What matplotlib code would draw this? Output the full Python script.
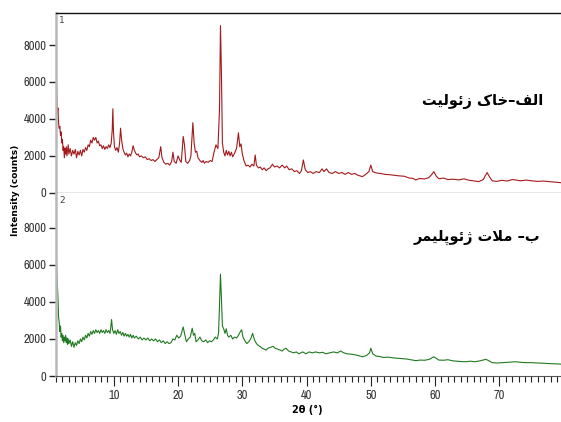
# xrd_soil_mortar.py
# XRD patterns: zeolite soil (top) and geopolymer mortar (bottom)

import matplotlib
matplotlib.use("Agg")
import matplotlib.pyplot as plt
from matplotlib.ticker import MultipleLocator

# ---- data (2theta in degrees, intensity in counts) ----
two_theta_soil = [
    1.0, 1.05, 1.1, 1.2, 1.3, 1.4, 1.5, 1.6, 1.7, 1.8, 1.9, 2.0, 2.1, 2.2, 2.3, 2.4,
    2.5, 2.6, 2.7, 2.8, 2.9, 3.0, 3.2, 3.4, 3.6, 3.8, 4.0, 4.2, 4.4, 4.6, 4.8, 5.0,
    5.2, 5.4, 5.6, 5.8, 6.0, 6.2, 6.4, 6.6, 6.8, 7.0, 7.2, 7.4, 7.6, 7.8, 8.0, 8.2,
    8.4, 8.6, 8.8, 9.0, 9.2, 9.4, 9.6, 9.75, 9.85, 9.95, 10.1, 10.3, 10.5, 10.7,
    10.9, 11.05, 11.2, 11.4, 11.6, 11.8, 12.0, 12.2, 12.4, 12.6, 12.8, 13.0, 13.2,
    13.4, 13.6, 13.8, 14.0, 14.3, 14.6, 14.9, 15.2, 15.5, 15.8, 16.1, 16.4, 16.7,
    17.0, 17.3, 17.5, 17.8, 18.1, 18.4, 18.7, 19.0, 19.2, 19.4, 19.7, 20.0, 20.3,
    20.5, 20.8, 21.0, 21.2, 21.5, 21.8, 22.0, 22.3, 22.5, 22.7, 22.9, 23.1, 23.4,
    23.7, 23.9, 24.1, 24.4, 24.7, 25.0, 25.3, 25.6, 25.9, 26.2, 26.45, 26.6, 26.75,
    26.9, 27.1, 27.3, 27.5, 27.7, 27.9, 28.1, 28.3, 28.5, 28.8, 29.1, 29.4, 29.6,
    29.8, 30.0, 30.3, 30.6, 30.9, 31.2, 31.5, 31.8, 32.0, 32.2, 32.5, 32.8, 33.1,
    33.4, 33.7, 34.0, 34.3, 34.7, 35.0, 35.4, 35.8, 36.2, 36.6, 36.9, 37.3, 37.7,
    38.1, 38.5, 38.9, 39.2, 39.5, 39.8, 40.2, 40.6, 41.0, 41.5, 42.0, 42.4, 42.7,
    43.1, 43.5, 44.0, 44.5, 45.0, 45.5, 46.0, 46.5, 47.0, 47.5, 48.0, 48.7, 49.2,
    49.7, 50.0, 50.3, 50.8, 51.5, 52.2, 53.0, 53.7, 54.4, 55.2, 56.0, 56.6, 57.0,
    57.6, 58.3, 59.0, 59.5, 59.8, 60.2, 60.6, 61.3, 62.0, 62.8, 63.7, 64.5, 65.3,
    66.0, 66.8, 67.5, 68.1, 68.5, 68.9, 69.6, 70.4, 71.2, 72.0, 72.5, 73.3, 74.2,
    75.1, 76.0, 76.8, 77.7, 78.5, 79.3, 79.6,
]
counts_soil = [
    8600, 6000, 5800, 4300, 4600, 3800, 3500, 3600, 3100, 3300, 2700, 2900, 2300, 2500, 1900, 2400,
    2100, 2500, 2000, 2300, 2600, 2100, 2400, 2000, 2300, 2100, 2350, 1900, 2250, 2050, 2300, 2000,
    2350, 2200, 2450, 2300, 2600, 2500, 2850, 2700, 3000, 2850, 3000, 2700, 2800, 2550, 2600, 2400,
    2550, 2350, 2500, 2400, 2600, 2450, 2700, 3400, 4550, 3300, 2500, 2300, 2450, 2200,
    2700, 3500, 2900, 2400, 2200, 2050, 2150, 1950, 2100, 2000, 2200, 2550, 2300,
    2150, 2050, 2100, 1950, 2000, 1900, 1950, 1800, 1850, 1750, 1800, 1700, 1800,
    1900, 2500, 1900, 1650, 1550, 1600, 1500, 1700, 2200, 1700, 1600, 2000, 1750,
    1650, 3050, 2600, 1700, 1600, 1750, 2000, 3800, 2700, 2200, 2250, 1900, 1750,
    1650, 1750, 1600, 1700, 1650, 1750, 1700, 2200, 2600, 2400, 4500, 9050, 6500,
    2700, 2200, 2000, 2300, 2050, 2250, 2000, 2200, 1950, 2150, 2400, 3250, 2500,
    2650, 2100, 1700, 1450, 1500, 1400, 1550, 1450, 2050, 1500, 1350, 1400, 1250,
    1350, 1200, 1300, 1350, 1550, 1400, 1450, 1350, 1500, 1350, 1450, 1250, 1300,
    1150, 1200, 1050, 1200, 1780, 1250, 1100, 1150, 1050, 1150, 1100, 1300, 1150,
    1300, 1100, 1050, 1150, 1050, 1100, 1000, 1100, 1000, 1050, 950, 880, 1000,
    1150, 1500, 1150, 1080, 1050, 1000, 980, 950, 920, 900, 800, 780, 700,
    780, 750, 820, 1000, 1150, 900, 760, 800, 720, 740, 700, 760, 680,
    650, 610, 720, 1100, 850, 650, 620, 680, 640, 720, 700, 650, 690,
    650, 620, 640, 610, 580, 560, 550,
]

two_theta_mortar = [
    1.0, 1.05, 1.1, 1.2, 1.3, 1.4, 1.5, 1.6, 1.7, 1.8, 1.9, 2.0, 2.1, 2.2, 2.3, 2.4,
    2.5, 2.6, 2.7, 2.8, 2.9, 3.0, 3.2, 3.4, 3.6, 3.8, 4.0, 4.2, 4.4, 4.6, 4.8, 5.0,
    5.2, 5.4, 5.6, 5.8, 6.0, 6.2, 6.4, 6.6, 6.8, 7.0, 7.2, 7.4, 7.6, 7.8, 8.0, 8.2,
    8.4, 8.6, 8.8, 9.0, 9.2, 9.4, 9.55, 9.65, 9.8, 10.0, 10.2, 10.4, 10.6, 10.8,
    11.0, 11.2, 11.4, 11.6, 11.8, 12.0, 12.2, 12.4, 12.6, 12.8, 13.0, 13.2, 13.5,
    13.8, 14.1, 14.4, 14.7, 15.0, 15.3, 15.6, 15.9, 16.2, 16.5, 16.8, 17.1, 17.4,
    17.7, 18.0, 18.3, 18.6, 18.9, 19.2, 19.5, 19.8, 20.1, 20.4, 20.8, 21.0, 21.3,
    21.6, 21.9, 22.2, 22.4, 22.6, 22.8, 23.1, 23.4, 23.7, 24.0, 24.3, 24.6, 24.9,
    25.2, 25.5, 25.8, 26.1, 26.3, 26.45, 26.6, 26.75, 26.9, 27.1, 27.3, 27.5, 27.7,
    27.9, 28.2, 28.5, 28.8, 29.1, 29.4, 29.7, 29.9, 30.1, 30.4, 30.7, 31.0, 31.3,
    31.6, 31.9, 32.2, 32.5, 32.8, 33.1, 33.4, 33.7, 34.0, 34.4, 34.8, 35.1, 35.5,
    35.9, 36.2, 36.5, 36.8, 37.2, 37.6, 38.0, 38.4, 38.8, 39.1, 39.4, 39.9, 40.4,
    40.9, 41.4, 42.0, 42.5, 43.0, 43.6, 44.2, 44.8, 45.3, 45.8, 46.3, 46.9, 47.5,
    48.1, 48.7, 49.3, 49.8, 50.0, 50.3, 50.8, 51.4, 52.0, 52.7, 53.4, 54.1, 54.8,
    55.5, 56.2, 57.0, 57.7, 58.4, 59.1, 59.8, 60.2, 60.6, 61.3, 62.0, 62.7, 63.4,
    64.1, 64.8, 65.5, 66.2, 67.0, 67.9, 68.4, 68.9, 69.7, 70.5, 71.3, 72.0, 72.5,
    73.3, 74.2, 75.1, 76.0, 76.9, 77.7, 78.5, 79.3, 79.6,
]
counts_mortar = [
    8550, 6500, 5900, 5000, 4300, 3200, 2900, 2400, 2700, 2100, 2300, 1900, 2200, 1800, 2100, 1900,
    2200, 1800, 2050, 1700, 2000, 1750, 1950, 1600, 1850, 1550, 1800, 1650, 1900, 1750, 2000, 1850,
    2100, 1950, 2200, 2050, 2300, 2150, 2400, 2250, 2450, 2300, 2500, 2350, 2450, 2300, 2500, 2350,
    2450, 2300, 2500, 2350, 2450, 2300, 2700, 3050, 2500, 2300, 2450, 2250, 2500, 2300,
    2400, 2200, 2350, 2150, 2300, 2150, 2250, 2100, 2250, 2050, 2200, 2050, 2150,
    2000, 2100, 1950, 2050, 1950, 2050, 1900, 2000, 1900, 2000, 1850, 1950, 1800,
    1900, 1750, 1850, 1750, 1800, 2000, 1950, 2200, 2050, 2150, 2650, 2300, 1850,
    2000, 2100, 2580, 2200, 2300, 1850, 1950, 2100, 1900, 1850, 1950, 1800, 1900,
    1850, 1950, 2100, 2000, 2300, 3800, 5500, 4200, 2700, 2550, 2300, 2550, 2200,
    2100, 2200, 2000, 2100, 2050, 2200, 2400, 2500, 2100, 1900, 1750, 1850, 2000,
    2300, 1950, 1750, 1650, 1580, 1500, 1450, 1400, 1500, 1550, 1600, 1500, 1450,
    1400, 1350, 1450, 1500, 1350, 1300, 1250, 1300, 1200, 1250, 1300, 1200, 1300,
    1250, 1300, 1250, 1280, 1200, 1250, 1300, 1250, 1350, 1250, 1200, 1180, 1150,
    1100, 1040, 1100, 1250, 1500, 1200, 1080, 1050, 1000, 1020, 980, 960, 940,
    920, 880, 830, 860, 850, 900, 1040, 950, 860, 850, 880, 820, 800,
    780, 770, 800, 770, 820, 900, 820, 720, 700, 720, 740, 760, 770,
    740, 720, 720, 700, 690, 670, 660, 650, 640,
]

y_ticks = [0, 2000, 4000, 6000, 8000]
x_ticks = [10, 20, 30, 40, 50, 60, 70]

# Persian captions, pre-shaped into presentation forms and laid out left to right
label_soil = "\uFE96\uFBFF\uFEDF\uFEEE\uFE8B\uFEAF \uFB8E\uFE8E\uFEA7\u2013\uFED2\uFEDF\uFE8D"      # الف–خاک زئولیت
label_mortar = "\uFEAE\uFEE4\uFBFF\uFEE0\uFB58\uFEEE\uFE8B\uFB8A \uFE95\uFEFC\uFEE3 \u2013\uFE8F"   # ب– ملات ژئوپلیمر

c_soil = "#a3191b"
c_mortar = "#1f7a1f"
c_tick = "#333333"
narrow = ["Liberation Sans Narrow", "Archivo Narrow", "DejaVu Sans"]


def style_axis(ax):
    ax.set_xlim(1.0, 79.6)
    ax.set_yticks(y_ticks)
    ax.tick_params(axis="y", direction="out", length=5, width=1, colors="#222222",
                   labelsize=9, labelcolor=c_tick, pad=2)
    for lab in ax.get_yticklabels():
        lab.set_family(narrow)
    ax.spines["right"].set_visible(False)
    ax.spines["left"].set_color("#b8b8b8")
    ax.spines["left"].set_linewidth(1.8)


fig = plt.figure(figsize=(5.61, 4.22), dpi=100)
fig.patch.set_facecolor("white")
ax1 = fig.add_axes([0.0998, 0.543, 0.9002, 0.426])
ax2 = fig.add_axes([0.0998, 0.109, 0.9002, 0.434], sharex=ax1)

ax1.plot(two_theta_soil, counts_soil, color=c_soil, lw=0.8)
ax2.plot(two_theta_mortar, counts_mortar, color=c_mortar, lw=0.8)

style_axis(ax1)
style_axis(ax2)
ax1.set_ylim(0, 9730)
ax2.set_ylim(0, 9890)

ax1.spines["top"].set_color("#111111")
ax1.spines["top"].set_linewidth(1.0)
ax1.spines["bottom"].set_color("#8a8a8a")
ax1.spines["bottom"].set_linewidth(1.0)
ax1.tick_params(axis="x", bottom=False, labelbottom=False)

ax2.spines["top"].set_visible(False)
ax2.spines["bottom"].set_color("#555555")
ax2.spines["bottom"].set_linewidth(0.8)
ax2.set_xticks(x_ticks)
ax2.xaxis.set_minor_locator(MultipleLocator(1))
ax2.tick_params(axis="x", which="major", direction="out", length=7, width=0.8,
                colors="#222222", labelsize=9, labelcolor=c_tick, pad=3)
ax2.tick_params(axis="x", which="minor", direction="out", length=4, width=0.8,
                colors="#222222")
for lab in ax2.get_xticklabels():
    lab.set_family(narrow)

ax1.text(0.006, 0.985, "1", transform=ax1.transAxes, fontsize=6.5, color="#444444",
         ha="left", va="top")
ax2.text(0.006, 0.985, "2", transform=ax2.transAxes, fontsize=6.5, color="#444444",
         ha="left", va="top")

ax1.text(0.964, 0.51, label_soil, transform=ax1.transAxes, fontsize=10.5,
         fontweight="bold", ha="right", va="center", color="black")
ax2.text(0.958, 0.754, label_mortar, transform=ax2.transAxes, fontsize=10.5,
         fontweight="bold", ha="right", va="center", color="black")

fig.text(0.027, 0.55, "Intensity (counts)", rotation=90, fontsize=6.5,
         fontweight="bold", ha="center", va="center")
fig.text(0.547, 0.028, "2\u03b8 (\u00b0)", fontsize=7, fontweight="bold",
         ha="center", va="center")

fig.savefig("out.png", dpi=100)
